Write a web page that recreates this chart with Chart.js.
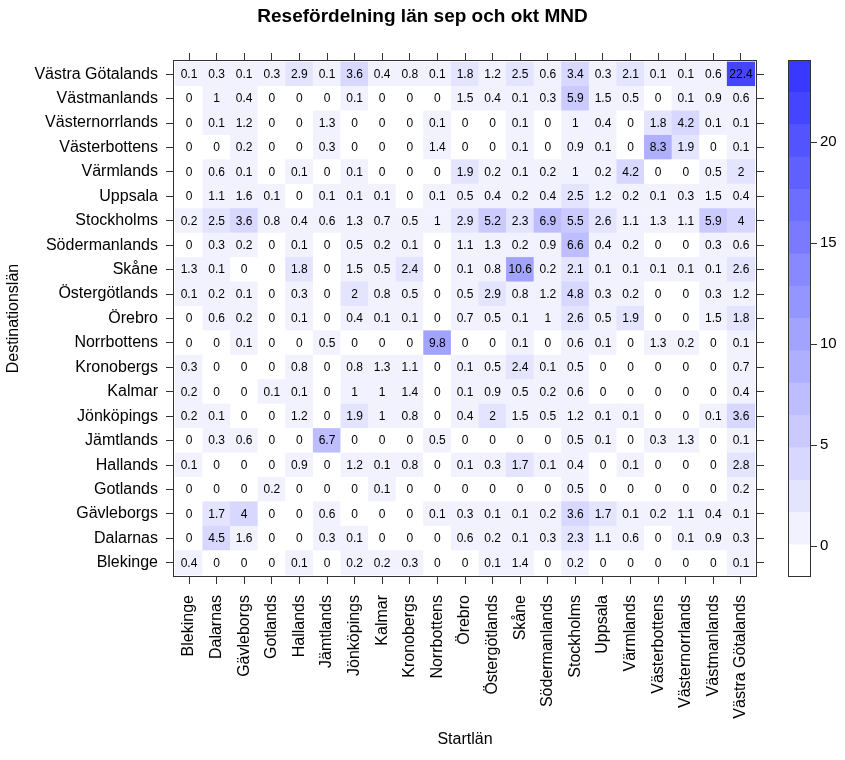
<!DOCTYPE html>
<html>
<head>
<meta charset="utf-8">
<title>Resefördelning län</title>
<script src="https://cdn.jsdelivr.net/npm/chart.js@4.4.1/dist/chart.umd.min.js"></script>
<style>
  body { margin: 0; background: #fff; }
  #wrap { position: relative; width: 845px; height: 760px; }
  #heatmap { position: absolute; left: 0; top: 0; }
  #legendBar { position: absolute; left: 760px; top: 0; }
</style>
</head>
<body>
<div id="wrap">
  <canvas id="heatmap" width="845" height="760"></canvas>
  <canvas id="legendBar" width="85" height="760"></canvas>
</div>
<script>
let startLan = ["Blekinge", "Dalarnas", "Gävleborgs", "Gotlands", "Hallands", "Jämtlands", "Jönköpings", "Kalmar", "Kronobergs", "Norrbottens", "Örebro", "Östergötlands", "Skåne", "Södermanlands", "Stockholms", "Uppsala", "Värmlands", "Västerbottens", "Västernorrlands", "Västmanlands", "Västra Götalands"];
let destLan = ["Blekinge", "Dalarnas", "Gävleborgs", "Gotlands", "Hallands", "Jämtlands", "Jönköpings", "Kalmar", "Kronobergs", "Norrbottens", "Örebro", "Östergötlands", "Skåne", "Södermanlands", "Stockholms", "Uppsala", "Värmlands", "Västerbottens", "Västernorrlands", "Västmanlands", "Västra Götalands"];

// one row per destination (bottom to top), one value per start county
let shares = [
  [0.4, 0, 0, 0, 0.1, 0, 0.2, 0.2, 0.3, 0, 0, 0.1, 1.4, 0, 0.2, 0, 0, 0, 0, 0, 0.1],
  [0, 4.5, 1.6, 0, 0, 0.3, 0.1, 0, 0, 0, 0.6, 0.2, 0.1, 0.3, 2.3, 1.1, 0.6, 0, 0.1, 0.9, 0.3],
  [0, 1.7, 4, 0, 0, 0.6, 0, 0, 0, 0.1, 0.3, 0.1, 0.1, 0.2, 3.6, 1.7, 0.1, 0.2, 1.1, 0.4, 0.1],
  [0, 0, 0, 0.2, 0, 0, 0, 0.1, 0, 0, 0, 0, 0, 0, 0.5, 0, 0, 0, 0, 0, 0.2],
  [0.1, 0, 0, 0, 0.9, 0, 1.2, 0.1, 0.8, 0, 0.1, 0.3, 1.7, 0.1, 0.4, 0, 0.1, 0, 0, 0, 2.8],
  [0, 0.3, 0.6, 0, 0, 6.7, 0, 0, 0, 0.5, 0, 0, 0, 0, 0.5, 0.1, 0, 0.3, 1.3, 0, 0.1],
  [0.2, 0.1, 0, 0, 1.2, 0, 1.9, 1, 0.8, 0, 0.4, 2, 1.5, 0.5, 1.2, 0.1, 0.1, 0, 0, 0.1, 3.6],
  [0.2, 0, 0, 0.1, 0.1, 0, 1, 1, 1.4, 0, 0.1, 0.9, 0.5, 0.2, 0.6, 0, 0, 0, 0, 0, 0.4],
  [0.3, 0, 0, 0, 0.8, 0, 0.8, 1.3, 1.1, 0, 0.1, 0.5, 2.4, 0.1, 0.5, 0, 0, 0, 0, 0, 0.7],
  [0, 0, 0.1, 0, 0, 0.5, 0, 0, 0, 9.8, 0, 0, 0.1, 0, 0.6, 0.1, 0, 1.3, 0.2, 0, 0.1],
  [0, 0.6, 0.2, 0, 0.1, 0, 0.4, 0.1, 0.1, 0, 0.7, 0.5, 0.1, 1, 2.6, 0.5, 1.9, 0, 0, 1.5, 1.8],
  [0.1, 0.2, 0.1, 0, 0.3, 0, 2, 0.8, 0.5, 0, 0.5, 2.9, 0.8, 1.2, 4.8, 0.3, 0.2, 0, 0, 0.3, 1.2],
  [1.3, 0.1, 0, 0, 1.8, 0, 1.5, 0.5, 2.4, 0, 0.1, 0.8, 10.6, 0.2, 2.1, 0.1, 0.1, 0.1, 0.1, 0.1, 2.6],
  [0, 0.3, 0.2, 0, 0.1, 0, 0.5, 0.2, 0.1, 0, 1.1, 1.3, 0.2, 0.9, 6.6, 0.4, 0.2, 0, 0, 0.3, 0.6],
  [0.2, 2.5, 3.6, 0.8, 0.4, 0.6, 1.3, 0.7, 0.5, 1, 2.9, 5.2, 2.3, 6.9, 5.5, 2.6, 1.1, 1.3, 1.1, 5.9, 4],
  [0, 1.1, 1.6, 0.1, 0, 0.1, 0.1, 0.1, 0, 0.1, 0.5, 0.4, 0.2, 0.4, 2.5, 1.2, 0.2, 0.1, 0.3, 1.5, 0.4],
  [0, 0.6, 0.1, 0, 0.1, 0, 0.1, 0, 0, 0, 1.9, 0.2, 0.1, 0.2, 1, 0.2, 4.2, 0, 0, 0.5, 2],
  [0, 0, 0.2, 0, 0, 0.3, 0, 0, 0, 1.4, 0, 0, 0.1, 0, 0.9, 0.1, 0, 8.3, 1.9, 0, 0.1],
  [0, 0.1, 1.2, 0, 0, 1.3, 0, 0, 0, 0.1, 0, 0, 0.1, 0, 1, 0.4, 0, 1.8, 4.2, 0.1, 0.1],
  [0, 1, 0.4, 0, 0, 0, 0.1, 0, 0, 0, 1.5, 0.4, 0.1, 0.3, 5.9, 1.5, 0.5, 0, 0.1, 0.9, 0.6],
  [0.1, 0.3, 0.1, 0.3, 2.9, 0.1, 3.6, 0.4, 0.8, 0.1, 1.8, 1.2, 2.5, 0.6, 3.4, 0.3, 2.1, 0.1, 0.1, 0.6, 22.4]
];

// colour key: 16 equal bands
let breaks = [-1.53, 0.07, 1.67, 3.27, 4.87, 6.47, 8.07, 9.67, 11.27, 12.87, 14.47, 16.07, 17.67, 19.27, 20.87, 22.47, 24.07];
let keyTicks = [0, 5, 10, 15, 20];

Chart.defaults.font.family = "'Liberation Sans', Arial, sans-serif";
Chart.defaults.color = "#000";

function bandColor(k) {
  let c = Math.round(255 - 199 * k / (breaks.length - 2));
  return `rgb(${c}, ${c}, 255)`;
}

function colorFor(v) {
  for (let k = 0; k < breaks.length - 1; k++) {
    if (v >= breaks[k] && v < breaks[k + 1]) {
      return bandColor(k);
    }
  }
  return bandColor(breaks.length - 2);
}

let frame = {
  id: "frame",
  afterDraw(chart) {
    let a = chart.chartArea;
    let ctx = chart.ctx;
    ctx.save();
    ctx.strokeStyle = "#333";
    ctx.lineWidth = 1;
    ctx.strokeRect(Math.round(a.left) + 0.5, Math.round(a.top) + 0.5, Math.round(a.right - a.left) - 1, Math.round(a.bottom - a.top) - 1);
    ctx.restore();
  }
};

let cellText = {
  id: "cellText",
  afterDatasetsDraw(chart) {
    let ctx = chart.ctx;
    ctx.save();
    ctx.font = "12px 'Liberation Sans', Arial, sans-serif";
    ctx.fillStyle = "#000";
    ctx.textAlign = "center";
    ctx.textBaseline = "middle";
    for (let r = 0; r < shares.length; r++) {
      let meta = chart.getDatasetMeta(r);
      meta.data.forEach((bar, c) => {
        ctx.fillText(String(shares[r][c]), bar.x, (bar.y + bar.base) / 2 + 0.5);
      });
    }
    ctx.restore();
  }
};

function heatDatasets() {
  return destLan.map((name, r) => ({
    label: name,
    data: shares[r].map((v, c) => ({ x: c + 1, y: [r + 0.5, r + 1.5] })),
    backgroundColor: shares[r].map(colorFor),
    borderWidth: 0,
    grouped: false,
    barPercentage: 1,
    categoryPercentage: 1,
    xAxisID: "x",
    yAxisID: "y"
  }));
}

function setColTicks(axis) {
  axis.ticks = startLan.map((_, i) => ({ value: i + 1 }));
}

function setRowTicks(axis) {
  axis.ticks = destLan.map((_, i) => ({ value: i + 1 }));
}

let tickGrid = { drawOnChartArea: false, offset: false, tickLength: 7, color: "#333", tickColor: "#333" };

new Chart(document.getElementById("heatmap"), {
  type: "bar",
  data: { datasets: heatDatasets() },
  options: {
    responsive: false,
    animation: false,
    layout: { padding: { left: 0, right: 0, top: 0, bottom: 7 } },
    scales: {
      x: {
        type: "linear",
        position: "bottom",
        offset: false,
        min: 0.42,
        max: 21.58,
        afterBuildTicks: setColTicks,
        afterFit: (s) => { s.height = 176; },
        grid: tickGrid,
        border: { display: false },
        ticks: {
          autoSkip: false,
          minRotation: 90,
          maxRotation: 90,
          padding: 11,
          font: { size: 16 },
          callback: (v) => startLan[v - 1]
        },
        title: { display: true, text: "Startlän", font: { size: 16 } }
      },
      x2: {
        type: "linear",
        position: "top",
        offset: false,
        min: 0.42,
        max: 21.58,
        afterBuildTicks: setColTicks,
        afterFit: (s) => { s.height = 12; },
        grid: tickGrid,
        border: { display: false },
        ticks: { display: false }
      },
      y: {
        type: "linear",
        position: "left",
        offset: false,
        min: 0.42,
        max: 21.58,
        afterBuildTicks: setRowTicks,
        afterFit: (s) => { s.width = 173; },
        grid: tickGrid,
        border: { display: false },
        ticks: {
          autoSkip: false,
          padding: 8,
          font: { size: 16 },
          callback: (v) => destLan[v - 1]
        },
        title: { display: true, text: "Destinationslän", font: { size: 16 } }
      },
      y2: {
        type: "linear",
        position: "right",
        offset: false,
        min: 0.42,
        max: 21.58,
        afterBuildTicks: setRowTicks,
        afterFit: (s) => { s.width = 88; },
        grid: tickGrid,
        border: { display: false },
        ticks: { display: false }
      }
    },
    plugins: {
      legend: { display: false },
      tooltip: { enabled: false },
      title: {
        display: true,
        text: "Resefördelning län sep och okt MND",
        font: { size: 19, weight: "bold" },
        padding: { top: 5, bottom: 20.2 }
      }
    }
  },
  plugins: [cellText, frame]
});

function keyDatasets() {
  let sets = [];
  for (let k = 0; k < breaks.length - 1; k++) {
    sets.push({
      data: [[breaks[k], breaks[k + 1]]],
      backgroundColor: bandColor(k),
      borderWidth: 0,
      grouped: false,
      barPercentage: 1,
      categoryPercentage: 1
    });
  }
  return sets;
}

new Chart(document.getElementById("legendBar"), {
  type: "bar",
  data: { labels: [""], datasets: keyDatasets() },
  options: {
    responsive: false,
    animation: false,
    layout: { padding: { left: 28, right: 0, top: 60, bottom: 183 } },
    scales: {
      x: { display: false },
      y: {
        position: "right",
        min: breaks[0],
        max: breaks[breaks.length - 1],
        afterBuildTicks: (axis) => { axis.ticks = keyTicks.map((v) => ({ value: v })); },
        afterFit: (s) => { s.width = 34; },
        grid: { drawOnChartArea: false, tickLength: 6, color: "#333", tickColor: "#333" },
        border: { display: false },
        ticks: { padding: 3, font: { size: 15 } }
      }
    },
    plugins: {
      legend: { display: false },
      tooltip: { enabled: false }
    }
  },
  plugins: [frame]
});
</script>
</body>
</html>
